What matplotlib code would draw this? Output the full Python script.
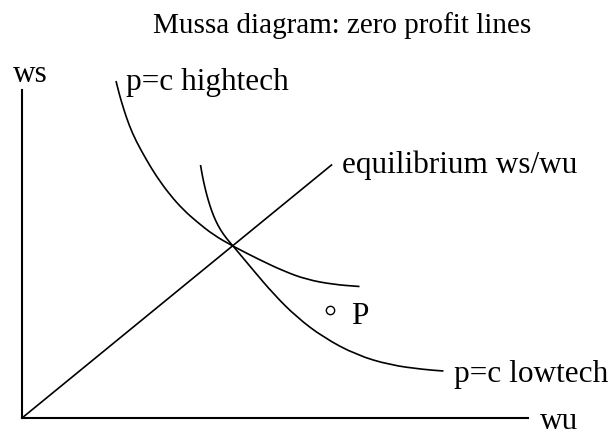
import matplotlib
matplotlib.use("Agg")
import matplotlib.pyplot as plt
from matplotlib.path import Path
from matplotlib.patches import PathPatch

plt.rcParams["font.family"] = ["Liberation Serif", "DejaVu Serif"]

# zero profit curves (wu, ws)
hightech_wu = [1.88, 1.95, 2.03, 2.14, 2.28, 2.49, 2.69, 2.96, 3.23, 3.49, 3.83,
               4.23, 4.76, 5.23, 5.69, 6.23, 6.75]
hightech_ws = [6.74, 6.46, 6.19, 5.86, 5.54, 5.16, 4.83, 4.46, 4.16, 3.93, 3.66,
               3.43, 3.16, 2.94, 2.77, 2.67, 2.63]

lowtech_wu = [3.57, 3.61, 3.66, 3.72, 3.79, 3.87, 3.97, 4.09, 4.23, 4.63, 5.03,
              5.49, 6.03, 6.69, 7.36, 8.03, 8.43]
lowtech_ws = [5.06, 4.83, 4.60, 4.37, 4.15, 3.95, 3.76, 3.59, 3.43, 2.95, 2.48,
              2.02, 1.61, 1.26, 1.06, 0.97, 0.94]

equilibrium_wu = [0.0, 6.19]
equilibrium_ws = [0.0, 5.06]

point_p = (6.16, 2.16)

wu_axis_end = 10.12
ws_axis_end = 6.56


def smooth_curve(ax, xs, ys, **kw):
    # quadratic segments through the midpoints, read points as control points
    pts = list(zip(xs, ys))
    verts = [pts[0]]
    codes = [Path.MOVETO]
    mids = [((a[0] + b[0]) / 2, (a[1] + b[1]) / 2) for a, b in zip(pts[:-1], pts[1:])]
    verts.append(mids[0])
    codes.append(Path.LINETO)
    for i in range(1, len(pts) - 1):
        verts += [pts[i], mids[i]]
        codes += [Path.CURVE3, Path.CURVE3]
    verts.append(pts[-1])
    codes.append(Path.LINETO)
    patch = PathPatch(Path(verts, codes), fill=False, transform=ax.transData, **kw)
    ax.add_patch(patch)


fig = plt.figure(figsize=(6.1, 4.38), dpi=100)
ax = fig.add_axes([0, 0, 1, 1])
ax.set_xlim(-0.44, 11.76)
ax.set_ylim(-0.40, 8.36)
ax.axis("off")

lw = 1.2
ax.plot([0, wu_axis_end], [0, 0], color="black", lw=lw + 0.3)
ax.plot([0, 0], [0, ws_axis_end], color="black", lw=lw + 0.3)
ax.plot(equilibrium_wu, equilibrium_ws, color="black", lw=lw)
smooth_curve(ax, hightech_wu, hightech_ws, edgecolor="black", lw=lw)
smooth_curve(ax, lowtech_wu, lowtech_ws, edgecolor="black", lw=lw)
ax.plot([point_p[0]], [point_p[1]], marker="o", ms=6, mfc="white",
        mec="black", mew=1.0, ls="none")

fs = 22.5
ax.text(6.4, 7.7, "Mussa diagram: zero profit lines", ha="center",
        va="baseline", fontsize=21)
ax.text(-0.18, 6.72, "ws", ha="left", va="baseline", fontsize=fs)
ax.text(2.08, 6.56, "p=c hightech", ha="left", va="baseline", fontsize=fs)
ax.text(6.4, 4.9, "equilibrium ws/wu", ha="left", va="baseline", fontsize=fs)
ax.text(6.58, 1.88, "P", ha="left", va="baseline", fontsize=fs)
ax.text(8.64, 0.72, "p=c lowtech", ha="left", va="baseline", fontsize=fs)
ax.text(10.36, -0.22, "wu", ha="left", va="baseline", fontsize=fs)

fig.savefig("out.png", dpi=100)
